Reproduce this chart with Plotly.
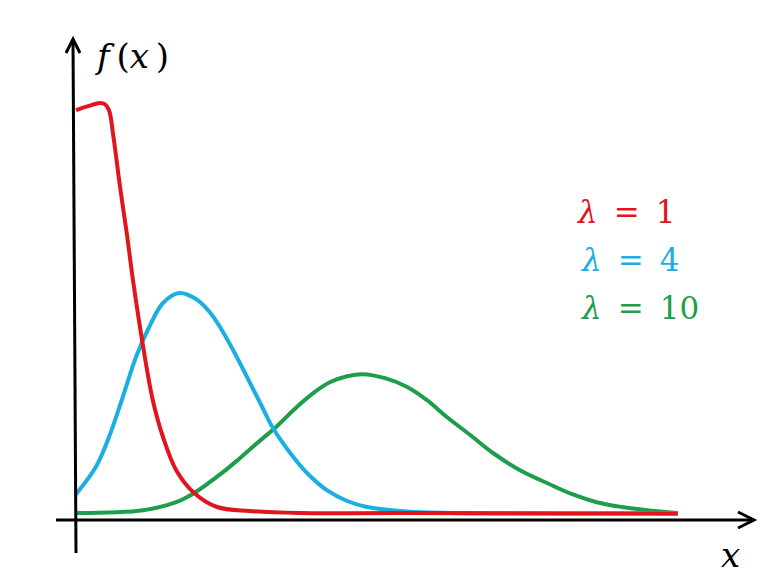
import plotly.graph_objects as go

# curve points (x from the y-axis, y above the x-axis)
red_x = [0, 0.2, 0.4, 0.48, 0.55, 0.62, 0.73, 0.85, 0.95, 1.12, 1.28, 1.45, 1.67, 1.97, 2.35, 2.9, 3.73,
         5.4, 10.03]
red_y = [1.022, 1.032, 1.04, 1.037, 1.022, 0.96, 0.835, 0.71, 0.597, 0.43, 0.297, 0.205, 0.122, 0.065, 0.03,
         0.02, 0.015, 0.015, 0.013]

blue_x = [0, 0.33, 0.55, 0.78, 1.0, 1.22, 1.45, 1.72, 2.0, 2.23, 2.4, 2.62, 2.85, 3.07, 3.28, 3.57, 3.85,
          4.18, 4.52, 4.85, 5.4, 6.23, 10.03]
blue_y = [0.062, 0.13, 0.205, 0.305, 0.405, 0.48, 0.54, 0.565, 0.55, 0.517, 0.48, 0.422, 0.355, 0.29, 0.228,
          0.165, 0.115, 0.072, 0.045, 0.03, 0.02, 0.015, 0.015]

green_x = [0, 1.12, 1.67, 1.97, 2.45, 2.73, 3.02, 3.32, 3.68, 4.02, 4.23, 4.52, 4.78, 5.15, 5.52, 5.85,
           6.18, 6.57, 6.95, 7.4, 7.85, 8.27, 8.68, 9.1, 9.52, 10.03]
green_y = [0.015, 0.022, 0.042, 0.065, 0.117, 0.152, 0.19, 0.228, 0.28, 0.322, 0.342, 0.357, 0.362, 0.352,
           0.33, 0.297, 0.255, 0.21, 0.165, 0.122, 0.09, 0.062, 0.042, 0.03, 0.022, 0.015]

labels = ["1", "4", "10"]
colors = ["#E0151E", "#1BAEE0", "#1E9E4A"]

W, H = 784, 581


def dx(px):
    return (px - 76) / 60


def dy(py):
    return (519 - py) / 400


fig = go.Figure()
for xs, ys, c in [(green_x, green_y, colors[2]), (blue_x, blue_y, colors[1]), (red_x, red_y, colors[0])]:
    fig.add_trace(go.Scatter(x=xs, y=ys, mode="lines", line=dict(color=c, width=4, shape="spline", smoothing=1.0),
                             hoverinfo="skip", showlegend=False))

ax = dict(color="black", width=3)
# y axis with open arrow head
fig.add_shape(type="line", x0=dx(76), y0=dy(553), x1=dx(73), y1=dy(40), line=ax)
fig.add_shape(type="path", path=f"M {dx(66)},{dy(53)} L {dx(73)},{dy(39)} L {dx(80)},{dy(53)}", line=ax)
# x axis
fig.add_shape(type="line", x0=dx(56), y0=dy(520), x1=dx(753), y1=dy(520), line=ax)
fig.add_shape(type="path", path=f"M {dx(738)},{dy(512)} L {dx(754)},{dy(520)} L {dx(738)},{dy(528)}", line=ax)

serif = "DejaVu Serif"
fig.add_annotation(x=dx(92), y=dy(56), text="<i>f</i>&#8201;(<i>x</i>&#8201;)", showarrow=False, xanchor="left",
                   font=dict(family=serif, size=34, color="black"))
fig.add_annotation(x=dx(730), y=dy(555), text="<i>x</i>", showarrow=False,
                   font=dict(family=serif, size=34, color="black"))
for i, (lab, c) in enumerate(zip(labels, colors)):
    fig.add_annotation(x=dx(574 if i == 0 else 578), y=dy(212 + 48 * i),
                       text=f"<i>λ</i>&#8201; =&#8201; {lab}",
                       showarrow=False, xanchor="left", font=dict(family=serif, size=31, color=c))

fig.update_layout(width=W, height=H, margin=dict(l=0, r=0, t=0, b=0),
                  plot_bgcolor="white", paper_bgcolor="white",
                  xaxis=dict(range=[dx(0), dx(W)], visible=False),
                  yaxis=dict(range=[dy(H), dy(0)], visible=False))
fig.write_html("out.html", config={"displayModeBar": False},
               post_script="document.body.style.margin='0';")
